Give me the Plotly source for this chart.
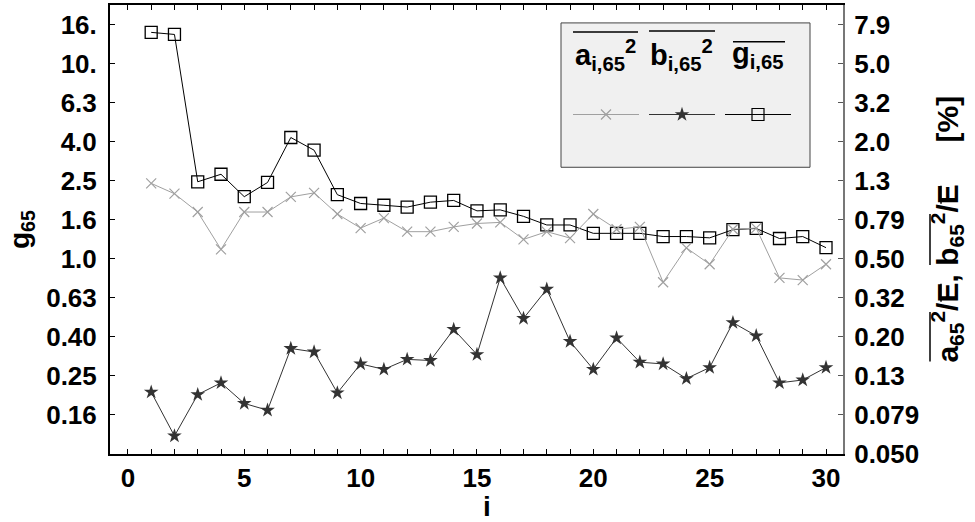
import plotly.graph_objects as go

# ---------------- data ----------------
i_vals = list(range(1, 31))
# g_i,65 (left axis, g65)
g_vals = [14.45, 14.1, 2.48, 2.71, 2.08, 2.46, 4.18, 3.60, 2.13, 1.92,
          1.88, 1.84, 1.95, 1.99, 1.76, 1.78, 1.65, 1.49, 1.49, 1.35,
          1.35, 1.35, 1.30, 1.30, 1.28, 1.41, 1.43, 1.27, 1.30, 1.14]
# a_i,65^2 / E  [%] (right axis)
a_pct = [1.22, 1.08, 0.87, 0.56, 0.87, 0.87, 1.04, 1.09, 0.85, 0.72,
         0.81, 0.69, 0.69, 0.73, 0.76, 0.77, 0.63, 0.69, 0.64, 0.85,
         0.71, 0.73, 0.38, 0.57, 0.47, 0.71, 0.72, 0.40, 0.39, 0.47]
# b_i,65^2 / E  [%] (right axis)
b_pct = [0.104, 0.062, 0.101, 0.116, 0.091, 0.084, 0.174, 0.167, 0.103, 0.145,
         0.136, 0.153, 0.151, 0.218, 0.162, 0.400, 0.248, 0.350, 0.189, 0.136,
         0.197, 0.148, 0.145, 0.122, 0.139, 0.236, 0.202, 0.116, 0.120, 0.139]

left_ticktext = ["0.16", "0.25", "0.40", "0.63", "1.0", "1.6", "2.5", "4.0", "6.3", "10.", "16."]
right_ticktext = ["0.050", "0.079", "0.13", "0.20", "0.32", "0.50", "0.79", "1.3", "2.0", "3.2", "5.0", "7.9"]
left_tickvals = [10 ** (e / 10) for e in range(-8, 13, 2)]
right_tickvals = [10 ** (e / 10) for e in range(-13, 10, 2)]

FONT = "Liberation Sans"
TFS = 26      # tick labels
HFS = 29      # legend headers
RFS = 30      # right axis title

# ---------------- layout helpers (pixel -> paper) ----------------
L, R, T, B = 110, 843, 3, 454
def px(x):
    return (x - L) / (R - L)
def py(y):
    return (B - y) / (B - T)

fig = go.Figure()

C_A = "#a0a0a0"
C_B = "#333333"
C_G = "#000000"

fig.add_trace(go.Scatter(x=i_vals, y=a_pct, yaxis="y2", mode="lines+markers",
                         line=dict(color=C_A, width=1),
                         marker=dict(symbol="x-thin-open", size=10, line=dict(color=C_A, width=1.2)),
                         showlegend=False))
fig.add_trace(go.Scatter(x=i_vals, y=b_pct, yaxis="y2", mode="lines+markers",
                         line=dict(color=C_B, width=1),
                         marker=dict(symbol="star", size=11, color=C_B, line=dict(width=0)),
                         showlegend=False))
fig.add_trace(go.Scatter(x=i_vals, y=g_vals, yaxis="y", mode="lines+markers",
                         line=dict(color=C_G, width=1),
                         marker=dict(symbol="square-open", size=12, color=C_G, line=dict(color=C_G, width=1.3)),
                         showlegend=False))

# ---------------- custom legend ----------------
shapes = []
annotations = []
shapes.append(dict(type="rect", xref="paper", yref="paper",
                   x0=px(561), x1=px(810), y0=py(166), y1=py(21),
                   fillcolor="#f0f0f0", line=dict(color="#444444", width=1), layer="below"))

legend_entries = [
    ("a<sub>i,65</sub><sup>2</sup>", 605, 573, 638, 30, 573, 639, C_A, "x-thin-open", 10),
    ("b<sub>i,65</sub><sup>2</sup>", 681, 649, 715, 29, 649, 715, C_B, "star", 11),
    ("g<sub>i,65</sub>", 758, 733, 785, 40, 725, 791, C_G, "square-open", 12),
]
for hdr, cx, ox0, ox1, oy, lx0, lx1, col, sym, sz in legend_entries:
    annotations.append(dict(xref="paper", yref="paper", x=px(cx), y=py(53),
                            text=hdr, showarrow=False, xanchor="center", yanchor="middle",
                            font=dict(family=FONT, size=HFS, color="black", weight="bold")))
    shapes.append(dict(type="line", xref="paper", yref="paper",
                       x0=px(ox0), x1=px(ox1), y0=py(oy), y1=py(oy),
                       line=dict(color="black", width=1.5)))
    fig.add_trace(go.Scatter(x=[px(lx0), px(lx1)], y=[py(113), py(113)], xaxis="x3", yaxis="y3",
                             mode="lines", line=dict(color=col, width=1), showlegend=False,
                             hoverinfo="skip"))
    mk = dict(symbol=sym, size=sz, color=col)
    if sym.endswith("open"):
        mk["line"] = dict(color=col, width=1.2)
    fig.add_trace(go.Scatter(x=[px((lx0 + lx1) / 2)], y=[py(113)], xaxis="x3", yaxis="y3",
                             mode="markers", marker=mk, showlegend=False, hoverinfo="skip"))

# ---------------- axis titles ----------------
annotations.append(dict(xref="paper", yref="paper", x=px(22), y=py(229),
                        text="g<sub>65</sub>", textangle=-90, showarrow=False,
                        xanchor="center", yanchor="middle",
                        font=dict(family=FONT, size=28, color="black", weight="bold")))
annotations.append(dict(xref="paper", yref="paper", x=px(487), y=py(507),
                        text="i", showarrow=False, xanchor="center", yanchor="middle",
                        font=dict(family=FONT, size=28, color="black", weight="bold")))

# right title: bottom of text at y=362 px, drawn upward; overline spans from font metrics
NB = "\u00a0"
em = RFS
pieces = [("a65^2", 0.556 + 0.778 + 0.389, True), ("/", 0.278, False), ("E", 0.667, True),
          (", ", 0.556, False), ("b65^2", 0.611 + 0.778 + 0.389, True), ("/", 0.278, False),
          ("E", 0.667, True), ("sp", 5 * 0.278, False), ("[%]", 1.555, False)]
y_cur = 362.0
total = sum(p[1] for p in pieces) * em
rt_center = y_cur - total / 2
for name, w, over in pieces:
    y_next = y_cur - w * em
    if over:
        xo = 930 if name != "E" else 941
        shapes.append(dict(type="line", xref="paper", yref="paper",
                           x0=px(xo), x1=px(xo), y0=py(y_cur - 1), y1=py(y_next + 1),
                           line=dict(color="black", width=1.5)))
    y_cur = y_next
annotations.append(dict(xref="paper", yref="paper", x=px(924), y=py(rt_center),
                        text="a<sub>65</sub><sup>2</sup>/E, b<sub>65</sub><sup>2</sup>/E" + NB * 5 + "[%]",
                        textangle=-90, showarrow=False, xanchor="left", yanchor="middle",
                        font=dict(family=FONT, size=RFS, color="black", weight="bold")))

tickfont = dict(family=FONT, size=TFS, color="black", weight="bold")

fig.update_layout(
    width=975, height=522,
    margin=dict(l=L, r=975 - R, t=T, b=522 - B, pad=0),
    paper_bgcolor="white", plot_bgcolor="white",
    showlegend=False,
    shapes=shapes, annotations=annotations,
    xaxis=dict(range=[-0.77, 30.73], showgrid=False, zeroline=False,
               showline=True, linecolor="black", linewidth=2, mirror="ticks",
               ticks="inside", ticklen=5, tickwidth=1, tickcolor="black",
               tick0=0, dtick=5, tickfont=tickfont, ticklabelstandoff=0,
               minor=dict(dtick=1, ticks="inside", ticklen=5, tickcolor="black", tickwidth=1)),
    yaxis=dict(type="log", range=[-1, 1.3], showgrid=False, zeroline=False,
               showline=True, linecolor="black", linewidth=2,
               ticks="inside", ticklen=5, tickwidth=1, tickcolor="black",
               tickvals=left_tickvals, ticktext=left_ticktext, tickfont=tickfont,
               ticklabelstandoff=6),
    yaxis2=dict(type="log", range=[-1.3, 1.0], overlaying="y", side="right",
                showgrid=False, zeroline=False,
                showline=True, linecolor="#777777", linewidth=2,
                ticks="inside", ticklen=5, tickwidth=1, tickcolor="#555555",
                tickvals=right_tickvals, ticktext=right_ticktext, tickfont=tickfont,
                ticklabelstandoff=4),
    xaxis3=dict(range=[0, 1], overlaying="x", anchor="y3", visible=False),
    yaxis3=dict(range=[0, 1], overlaying="y", anchor="x3", visible=False),
)

fig.write_html("out.html", config={"displayModeBar": False},
               post_script="document.body.style.margin='0px';")
